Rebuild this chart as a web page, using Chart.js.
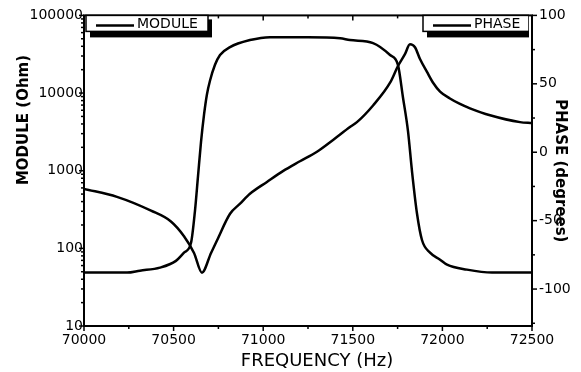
<!DOCTYPE html>
<html>
<head>
<meta charset="utf-8">
<script src="https://cdn.jsdelivr.net/npm/chart.js@4"></script>
<style>
  html, body { margin:0; padding:0; background:#fff; }
  #wrap { width:581px; height:372px; position:relative; }
</style>
</head>
<body>
<div id="wrap"><canvas id="c"></canvas></div>
<script>
// data
const moduleFreq = [70000, 70240, 70312, 70424, 70513, 70558, 70597, 70619, 70636, 70653, 70670, 70686, 70703, 70731, 70759, 70815, 70926, 71038, 71250, 71429, 71484, 71613, 71708, 71752, 71780, 71808, 71830, 71858, 71886, 71931, 71987, 72026, 72137, 72277, 72500];
const moduleOhm = [48.7, 48.7, 51.6, 56.5, 69, 88, 117, 300, 840, 2350, 5320, 9600, 14400, 23100, 30900, 39100, 48100, 52500, 52500, 50900, 48100, 44000, 30900, 23100, 8770, 3240, 1000, 283, 128, 88, 71.5, 61.6, 53.2, 48.7, 48.7];

const phaseFreq = [70000, 70184, 70374, 70485, 70558, 70614, 70658, 70709, 70742, 70815, 70871, 70926, 71021, 71110, 71205, 71300, 71390, 71484, 71523, 71613, 71708, 71752, 71791, 71819, 71847, 71875, 71914, 71948, 71987, 72042, 72098, 72154, 72266, 72433, 72500];
const phaseDeg = [-26.8, -32.6, -42.7, -50.6, -61.4, -73.6, -88.0, -73.6, -64.5, -45.0, -37.6, -30.4, -21.7, -13.8, -6.6, 0.4, 9.0, 18.4, 22.0, 34.2, 50.8, 63.0, 71.7, 78.9, 76.7, 68.1, 58.7, 50.8, 44.3, 39.3, 35.3, 32.1, 27.0, 22.0, 21.3];

const freqTicks = [70000, 70500, 71000, 71500, 72000, 72500];
const moduleTicks = [10, 100, 1000, 10000, 100000];
const phaseTicks = [-100, -50, 0, 50, 100];

const FONT = 'DejaVu Sans';
const pts = (xs, ys) => xs.map((x, i) => ({x: x, y: ys[i]}));

// frame, tick marks, legend boxes, titles drawn by hand
const framePlugin = {
  id: 'frame',
  afterDraw(chart){
    const ctx = chart.ctx, a = chart.chartArea;
    const sx = chart.scales.x, sl = chart.scales.y, sr = chart.scales.y1;
    ctx.save();
    ctx.strokeStyle = '#000'; ctx.fillStyle = '#000';
    ctx.lineWidth = 2;
    ctx.strokeRect(a.left, a.top, a.right - a.left, a.bottom - a.top);

    const tick = (x1, y1, x2, y2) => { ctx.beginPath(); ctx.moveTo(x1, y1); ctx.lineTo(x2, y2); ctx.stroke(); };
    ctx.lineWidth = 1.5;
    // x ticks, bottom outward, top inward
    for(let f = freqTicks[0]; f <= freqTicks[freqTicks.length-1]; f += 250){
      const px = sx.getPixelForValue(f);
      const len = (f % 500 === 0) ? 5 : 3;
      tick(px, a.bottom, px, a.bottom + len);
      tick(px, a.top, px, a.top + len);
    }
    // log ticks on the left
    for(let d = 10; d < 100000; d *= 10){
      for(let k = 1; k < 10; k++){
        const py = sl.getPixelForValue(d * k);
        tick(a.left - (k === 1 ? 5 : 3), py, a.left, py);
      }
    }
    tick(a.left - 5, sl.getPixelForValue(100000), a.left, sl.getPixelForValue(100000));
    // phase ticks on the right
    for(let p = -125; p <= 100; p += 25){
      const py = sr.getPixelForValue(p);
      tick(a.right, py, a.right + (p % 50 === 0 ? 5 : 3), py);
    }

    // legend boxes
    const box = (x, w, label) => {
      const y = a.top, h = 16;
      ctx.fillStyle = '#000';
      ctx.fillRect(x + 4, y + 4, w, h + 2);
      ctx.fillStyle = '#fff';
      ctx.fillRect(x, y, w, h);
      ctx.lineWidth = 1.5;
      ctx.strokeRect(x, y, w, h);
      ctx.lineWidth = 2.5;
      tick(x + 10, y + 10, x + 48, y + 10);
      ctx.fillStyle = '#000';
      ctx.font = '14px "' + FONT + '"';
      ctx.textAlign = 'left'; ctx.textBaseline = 'middle';
      ctx.fillText(label, x + 51, y + 9);
    };
    box(a.left + 2, 122, chart.data.datasets[0].label);
    ctx.save();
    ctx.beginPath(); ctx.rect(0, 0, a.right - 3, chart.height); ctx.clip();
    box(423, 106, chart.data.datasets[1].label);
    ctx.restore();

    // left axis title
    ctx.translate(24, 120);
    ctx.rotate(-Math.PI/2);
    ctx.font = 'bold 15px "' + FONT + '"';
    ctx.textAlign = 'center'; ctx.textBaseline = 'middle';
    ctx.fillStyle = '#000';
    ctx.fillText('MODULE (Ohm)', 0, 0);
    ctx.restore();

    // x axis title, a bit right of centre as in the picture
    ctx.save();
    ctx.font = '18px "' + FONT + '"';
    ctx.textAlign = 'center'; ctx.textBaseline = 'middle';
    ctx.fillStyle = '#000';
    ctx.fillText('FREQUENCY (Hz)', (a.left + a.right) / 2 + 9, 361);
    ctx.restore();
  }
};

new Chart(document.getElementById('c'), {
  type: 'line',
  data: {
    datasets: [
      { label: 'MODULE', data: pts(moduleFreq, moduleOhm), yAxisID: 'y',
        borderColor: '#000', borderWidth: 2.5, pointRadius: 0, cubicInterpolationMode: 'monotone' },
      { label: 'PHASE', data: pts(phaseFreq, phaseDeg), yAxisID: 'y1',
        borderColor: '#000', borderWidth: 2.5, pointRadius: 0, cubicInterpolationMode: 'monotone' }
    ]
  },
  options: {
    responsive: true, maintainAspectRatio: false, animation: false,
    layout: { padding: { top: 11, left: 0, right: 0, bottom: 0 } },
    plugins: { legend: { display: false }, tooltip: { enabled: false } },
    scales: {
      x: {
        type: 'linear', position: 'bottom', min: 70000, max: 72500,
        grid: { display: false, drawTicks: false }, border: { display: false },
        afterBuildTicks: s => { s.ticks = freqTicks.map(v => ({value: v})); },
        afterFit: s => { s.height = 46; },
        ticks: { color: '#000', padding: 6, maxRotation: 0, font: { family: FONT, size: 14 }, callback: v => String(v) }
      },
      y: {
        type: 'logarithmic', position: 'left', min: 10, max: 100000,
        grid: { display: false, drawTicks: false }, border: { display: false },
        afterBuildTicks: s => { s.ticks = moduleTicks.map(v => ({value: v})); },
        afterFit: s => { s.width = 84; },
        ticks: { color: '#000', padding: 1, font: { family: FONT, size: 14 }, callback: v => String(v) }
      },
      y1: {
        type: 'linear', position: 'right', min: -127, max: 100,
        grid: { display: false, drawTicks: false }, border: { display: false },
        afterBuildTicks: s => { s.ticks = phaseTicks.map(v => ({value: v})); },
        afterFit: s => { s.width = 49; },
        ticks: { color: '#000', padding: 7, font: { family: FONT, size: 14 }, callback: v => String(v) },
        title: { display: true, text: 'PHASE (degrees)', color: '#000', padding: { top: 12, bottom: 0 }, font: { family: FONT, size: 15, weight: 'bold' } }
      }
    }
  },
  plugins: [framePlugin]
});
</script>
</body>
</html>
